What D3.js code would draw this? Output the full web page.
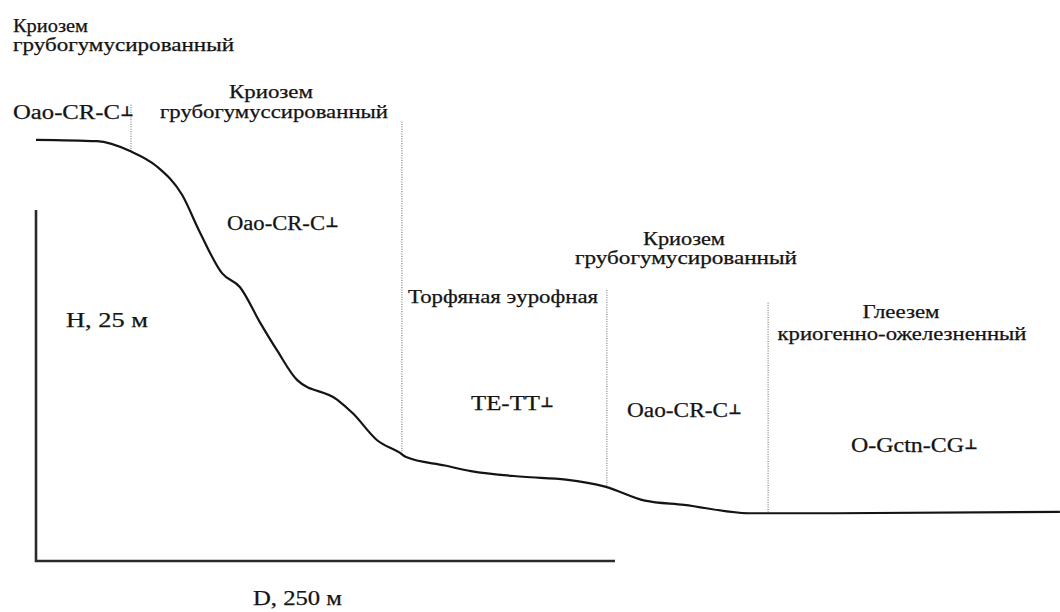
<!DOCTYPE html>
<html>
<head>
<meta charset="utf-8">
<script src="https://cdnjs.cloudflare.com/ajax/libs/d3/7.8.5/d3.min.js"></script>
<style>
body { margin: 0; background: #fff; }
text { font-family: "Liberation Serif", Tinos, "Times New Roman", "DejaVu Serif", serif; fill: #141414; stroke: #141414; stroke-width: 0.25; }
text.mark { font-family: "DejaVu Sans", sans-serif; stroke-width: 0.4; }
.profile { fill: none; stroke: #141414; stroke-width: 2.2; }
.axis { stroke: #2a2a2a; stroke-width: 2.6; fill: none; }
.bound { stroke: #666; stroke-width: 1; stroke-dasharray: 1,1.4; }
</style>
</head>
<body>
<svg id="chart" width="1060" height="612"></svg>
<script>

// slope profile, metres from the axis corner
var distM   = [0, 26.3, 40.6, 52.2, 63.0, 70.8, 80.3, 88.1, 96.7, 104.1, 112.7, 130.0, 136.9,
               147.3, 157.2, 159.8, 176.6, 187.8, 210.3, 228.8, 245.7, 262.9, 279.8, 307.9,
               316.1, 335.9, 442.1];
var heightM = [30.0, 29.9, 29.2, 28.1, 26.1, 23.4, 20.5, 19.5, 17.0, 15.0, 12.9, 11.5, 10.5,
               8.6, 7.7, 7.4, 6.8, 6.4, 6.0, 5.8, 5.3, 4.3, 4.0, 3.4, 3.4, 3.4, 3.5];

// soil boundaries (dotted lines) and their upper ends
var boundM    = [41.0, 158.0, 246.5, 316.1];
var boundTopM = [32.5, 31.3, 19.3, 18.4];

var soilNames = [["Криозем", "грубогумусированный"],
                 ["Криозем", "грубогумуссированный"],
                 ["Торфяная эурофная"],
                 ["Криозем", "грубогумусированный"],
                 ["Глеезем", "криогенно-ожелезненный"]];
var formulas  = ["Oao-CR-C", "Oao-CR-C", "TE-TT", "Oao-CR-C", "O-Gctn-CG"];
var axisLabels = ["H, 25 м", "D, 250 м"];
var axisMax = [25, 250];

var svg = d3.select("#chart");

var x = d3.scaleLinear().domain([0, axisMax[1]]).range([36, 615]);
var y = d3.scaleLinear().domain([0, axisMax[0]]).range([561, 210]);

// scale bars
svg.append("path").attr("class", "axis")
  .attr("d", "M" + x(0) + "," + y(axisMax[0]) + "V" + y(0) + "H" + x(axisMax[1]));

// boundaries
var profAt = function(d) {
  var i = d3.bisectLeft(distM, d);
  if (i <= 0) return heightM[0];
  var t = (d - distM[i-1]) / (distM[i] - distM[i-1]);
  return heightM[i-1] + t * (heightM[i] - heightM[i-1]);
};
svg.selectAll(".bound").data(boundM).enter().append("line")
  .attr("class", "bound")
  .attr("x1", function(d) { return x(d); })
  .attr("x2", function(d) { return x(d); })
  .attr("y1", function(d, i) { return y(boundTopM[i]); })
  .attr("y2", function(d) { return y(profAt(d)); });

// profile line
var line = d3.line()
  .x(function(d) { return x(d[0]); })
  .y(function(d) { return y(d[1]); })
  .curve(d3.curveMonotoneX);
svg.append("path").attr("class", "profile")
  .attr("d", line(d3.zip(distM, heightM)));

// label placement: [x, baseline, anchor, width] per line
var nameLayout = [
  [[13, 32, "start", 75], [13, 51, "start", 221]],
  [[271, 98, "middle", 84], [274, 118, "middle", 228]],
  [[408, 303, "start", 190]],
  [[684, 245, "middle", 82], [686, 264, "middle", 222]],
  [[901, 318, "middle", 77], [902, 340, "middle", 249]]
];
var formulaLayout = [[13, 119, 107], [227, 230, 98], [471, 410, 69], [627, 417, 101], [851, 452, 113]];
var axisLayout = [[66, 327, 82], [253, 605, 89]];

soilNames.forEach(function(lines, k) {
  lines.forEach(function(s, j) {
    var p = nameLayout[k][j];
    svg.append("text")
      .attr("x", p[0]).attr("y", p[1])
      .attr("text-anchor", p[2])
      .attr("font-size", 19)
      .attr("textLength", p[3])
      .attr("lengthAdjust", "spacingAndGlyphs")
      .text(s);
  });
});

formulas.forEach(function(s, k) {
  var p = formulaLayout[k];
  svg.append("text")
    .attr("x", p[0]).attr("y", p[1])
    .attr("font-size", 20)
    .attr("textLength", p[2])
    .attr("lengthAdjust", "spacingAndGlyphs")
    .text(s);
  // perpendicular mark after the formula, squashed like the original
  svg.append("text")
    .attr("class", "mark")
    .attr("transform", "translate(" + (p[0] + p[2] + 0.5) + "," + (p[1] - 3.5) + ") scale(0.8,0.75)")
    .attr("font-size", 18)
    .attr("font-weight", "bold")
    .text("\u22A5");
});

axisLabels.forEach(function(s, k) {
  var p = axisLayout[k];
  svg.append("text")
    .attr("x", p[0]).attr("y", p[1])
    .attr("font-size", 21)
    .attr("textLength", p[2])
    .attr("lengthAdjust", "spacingAndGlyphs")
    .text(s);
});

</script>
</body>
</html>
